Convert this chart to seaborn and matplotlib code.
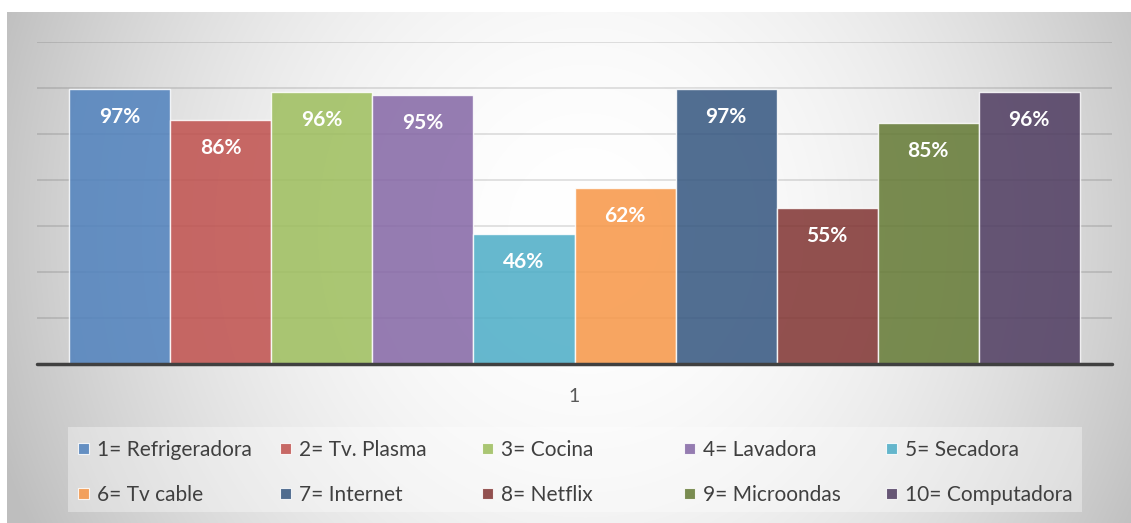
import numpy as np
import pandas as pd
import matplotlib
matplotlib.use("Agg")
import matplotlib.pyplot as plt
from matplotlib.patches import Rectangle
import seaborn as sns

# --- data -------------------------------------------------------------
equipos = ["1= Refrigeradora", "2= Tv. Plasma", "3= Cocina", "4= Lavadora",
           "5= Secadora", "6= Tv cable", "7= Internet", "8= Netflix",
           "9= Microondas", "10= Computadora"]
porcentajes = [0.97, 0.86, 0.96, 0.95, 0.46, 0.62, 0.97, 0.55, 0.85, 0.96]
grupo = ["1"] * len(equipos)
colores = ["#4F81BD", "#C0504D", "#9DBE5C", "#8466A5", "#4BACC6",
           "#F79646", "#33557F", "#803331", "#637933", "#4E3B60"]

df = pd.DataFrame({"grupo": grupo, "equipo": equipos, "valor": porcentajes})

# --- figure -----------------------------------------------------------
W, H = 1131, 523
sns.set_theme(style="white")
plt.rcParams["font.family"] = ["Lato", "DejaVu Sans"]
fig = plt.figure(figsize=(W / 100, H / 100), dpi=100)
fig.patch.set_facecolor("white")

def fx(px):
    return px / W

def fy(py):
    return 1 - py / H

# radial grey-to-white background of the chart frame
bg = fig.add_axes([fx(7), 0, 1 - fx(7), 1 - 12 / H], zorder=0)
bg.set_axis_off()
xs = np.arange(7, W)
ys = np.arange(12, H)
X, Y = np.meshgrid(xs, ys)
r = np.sqrt(((X - 585) / 578) ** 2 + ((Y - 230) / 620) ** 2)
shade = np.clip(255 - 56 * r ** 2, 190, 255) / 255
bg.imshow(np.dstack([shade] * 3), aspect="auto", interpolation="bilinear",
          extent=(0, 1, 0, 1))
bg.set_xlim(0, 1)
bg.set_ylim(0, 1)

# plot area
ax = fig.add_axes([fx(37), fy(364), fx(1112) - fx(37), (364 - 42) / H], zorder=1)
ax.set_facecolor("none")
ymax = 0.97 * 322 / 275
ax.set_ylim(0, ymax)
for g in np.linspace(0, ymax, 8)[1:]:
    ax.axhline(g, color=(0, 0, 0, 0.13), lw=1.2, zorder=0)

sns.barplot(data=df, x="grupo", y="valor", hue="equipo", hue_order=equipos,
            palette=colores, saturation=1, width=0.94, gap=0, alpha=0.85,
            edgecolor=(1, 1, 1, 0.55), linewidth=1.0, legend=False,
            err_kws={"linewidth": 0}, ax=ax, zorder=2)
ax.set_xlim(-0.5, 0.5)

# value labels inside the top of each bar
for cont, v in zip(ax.containers, porcentajes):
    for bar in cont:
        ax.annotate(f"{v:.0%}", (bar.get_x() + bar.get_width() / 2, bar.get_height()),
                    xytext=(0, -28), textcoords="offset pixels",
                    ha="center", va="center", color="white",
                    fontsize=15, fontweight="bold", zorder=4)

ax.axhline(0, color="#404040", lw=2.5, zorder=5, clip_on=False)
for s in ax.spines.values():
    s.set_visible(False)
ax.set_yticks([])
ax.set_xlabel("")
ax.set_ylabel("")
ax.tick_params(axis="x", length=0, pad=17, labelsize=14, labelcolor="#595959")

# legend: 2 rows x 5 equal-width columns
fig.patches.append(Rectangle((fx(68), fy(512)), fx(1082) - fx(68), (512 - 427) / H,
                             transform=fig.transFigure, facecolor=(1, 1, 1, 0.35),
                             edgecolor="none", zorder=2))
for i, (lab, col) in enumerate(zip(equipos, colores)):
    c, rw = i % 5, i // 5
    x0 = 78 + 202 * c
    yc = 448 + 45 * rw
    fig.patches.append(Rectangle((fx(x0), fy(yc + 5.5)), 11 / W, 11 / H,
                                 transform=fig.transFigure, facecolor=col, alpha=0.85,
                                 edgecolor=(1, 1, 1, 0.6), lw=0.8, zorder=3))
    fig.text(fx(x0 + 19), fy(yc), lab, ha="left", va="center_baseline",
             fontsize=15, color="#404040", zorder=3)

fig.savefig("out.png", dpi=100)
